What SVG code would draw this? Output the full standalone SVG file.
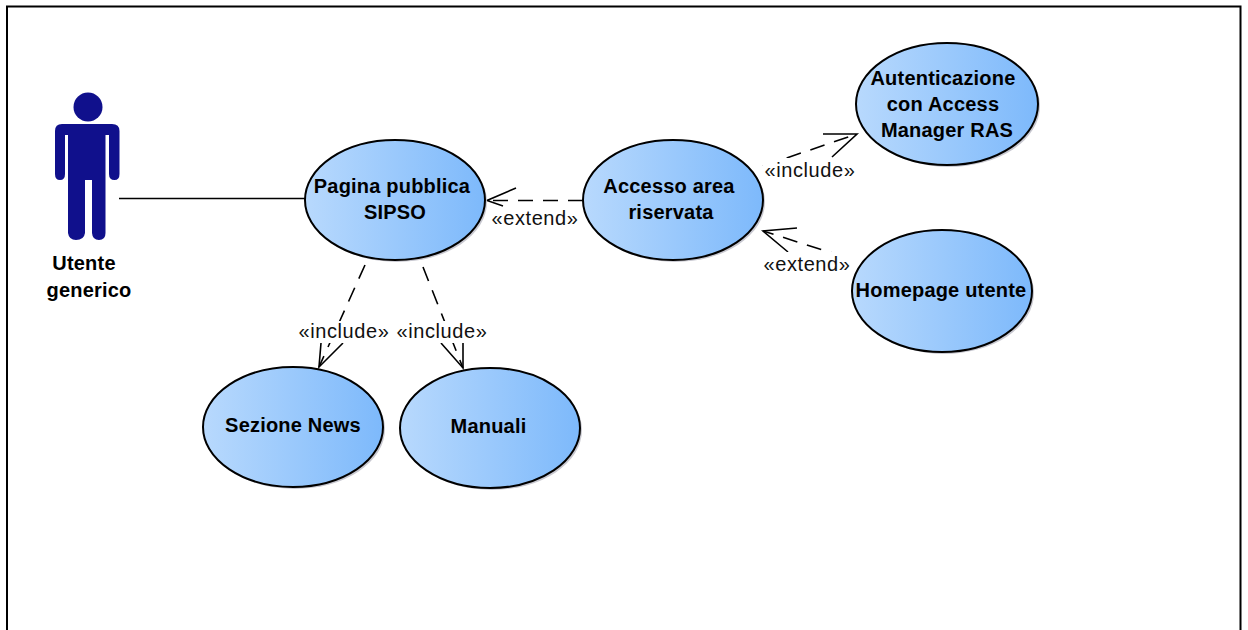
<svg xmlns="http://www.w3.org/2000/svg" width="1248" height="630" viewBox="0 0 1248 630">
<style>
.uc{stroke:#000;stroke-width:2;fill:url(#g)}
.sh{fill:#c8c8d0}
.t{font-family:"Liberation Sans",Arial,sans-serif;font-size:20px;font-weight:bold;text-anchor:middle;fill:#000;letter-spacing:.2px}
.l{font-family:"Liberation Sans",Arial,sans-serif;font-size:20px;text-anchor:middle;fill:#111;letter-spacing:.6px}
.c{fill:none;stroke:#000;stroke-width:1.6}
.d{stroke-dasharray:15 10}
.b{fill:#fff}
</style>
<defs><linearGradient id="g"><stop offset="0" stop-color="#b8d9fd"/><stop offset="1" stop-color="#7db9fb"/></linearGradient></defs>
<rect width="1248" height="630" fill="#fff"/>
<path d="M7 630V6.500H1240.500V630" fill="none" stroke="#000" stroke-width="2"/>
<g id="connectors">
<path class="c" d="M119 198.500H305"/>
<path class="c d" d="M583 200.500H487"/><path class="c" d="M516 188L487 200.500L503 206"/>
<path class="c d" d="M365 265L319 367"/><path class="c" d="M321 343L319 367L343 343"/>
<path class="c d" d="M423 267L463 368"/><path class="c" d="M441 343L463 368L463 343"/>
<path class="c d" d="M763 166L857 134"/><path class="c" d="M823 134L857 134L832 157"/>
<path class="c d" d="M845 257L763 231"/><path class="c" d="M797 228L763 231L788 252"/>
</g>
<g id="actor" fill="#10108c">
<circle cx="88" cy="107" r="14.500"/>
<path d="M55 131Q55 124 62 124H112Q119.500 124 119.500 131V174Q119.500 180 114.500 180Q109 180 109 174V135H105.500V233Q105.500 240 99 240Q92.500 240 92 233V180H85V233Q84 240 76 240Q69 240 68 233V135H65V174Q65 180 60 180Q55 180 55 174Z"/>
<text class="t" x="84" y="270">Utente</text><text class="t" x="89" y="297">generico</text>
</g>
<g id="n1"><ellipse class="sh" cx="397" cy="202" rx="90" ry="60"/><ellipse class="uc" cx="395" cy="200" rx="90" ry="60"/><text class="t" x="392" y="193">Pagina pubblica</text><text class="t" x="395" y="219">SIPSO</text></g>
<g id="n2"><ellipse class="sh" cx="675" cy="202" rx="90" ry="60"/><ellipse class="uc" cx="673" cy="200" rx="90" ry="60"/><text class="t" x="669" y="193">Accesso area</text><text class="t" x="671" y="219">riservata</text></g>
<g id="n3"><ellipse class="sh" cx="949" cy="106" rx="91" ry="61"/><ellipse class="uc" cx="947" cy="104" rx="91" ry="61"/><text class="t" x="943" y="85">Autenticazione</text><text class="t" x="943" y="111">con Access</text><text class="t" x="947" y="137">Manager RAS</text></g>
<g id="n4"><ellipse class="sh" cx="944" cy="293" rx="90" ry="61"/><ellipse class="uc" cx="942" cy="291" rx="90" ry="61"/><text class="t" x="941" y="297">Homepage utente</text></g>
<g id="n5"><ellipse class="sh" cx="295" cy="429" rx="90" ry="60"/><ellipse class="uc" cx="293" cy="427" rx="90" ry="60"/><text class="t" x="293" y="432">Sezione News</text></g>
<g id="n6"><ellipse class="sh" cx="492" cy="430" rx="90" ry="60"/><ellipse class="uc" cx="490" cy="428" rx="90" ry="60"/><text class="t" x="488.500" y="433">Manuali</text></g>
<g id="labels">
<rect class="b" x="490" y="207" width="90" height="25"/><text class="l" x="535" y="225">«extend»</text>
<rect class="b" x="298" y="321" width="92" height="22"/><text class="l" x="344" y="338">«include»</text>
<rect class="b" x="396" y="321" width="92" height="22"/><text class="l" x="442" y="338">«include»</text>
<rect class="b" x="763" y="158" width="94" height="26"/><text class="l" x="810" y="177">«include»</text>
<rect class="b" x="763" y="252" width="90" height="26"/><text class="l" x="807" y="271">«extend»</text>
</g>
</svg>
